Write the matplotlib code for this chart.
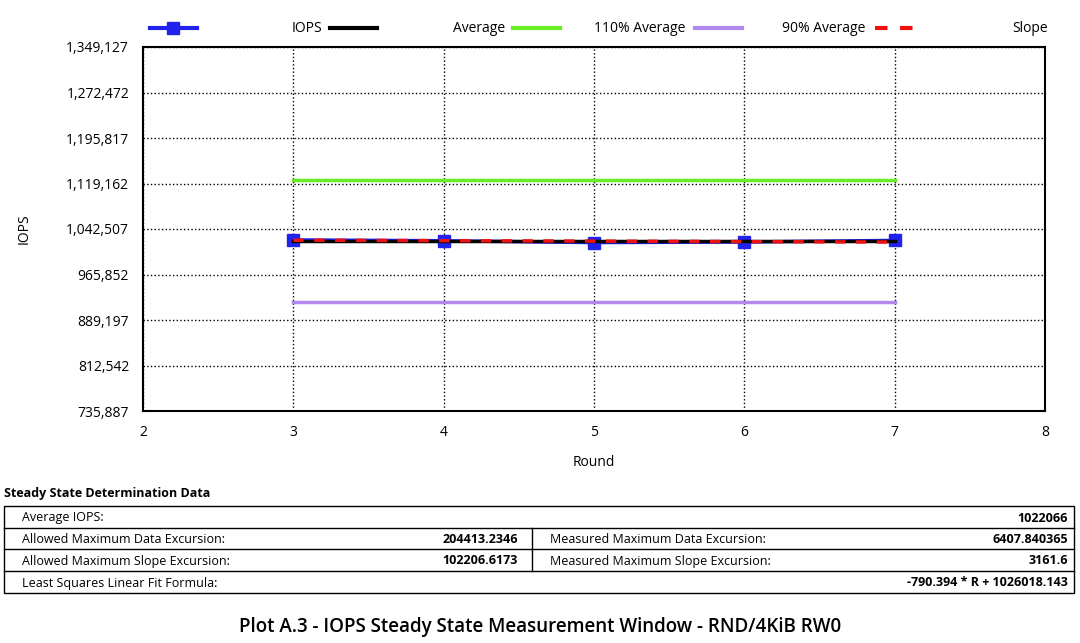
import numpy as np
import matplotlib.pyplot as plt
from matplotlib.lines import Line2D
from matplotlib.patches import Rectangle

rounds = [3, 4, 5, 6, 7]
iops = [1024100, 1022700, 1019600, 1020600, 1023300]
average = 1022066
slope_a, slope_b = -790.394, 1026018.143
yticks = [735887, 812542, 889197, 965852, 1042507, 1119162, 1195817, 1272472, 1349127]

W, H = 1080, 643
fig = plt.figure(figsize=(W / 100, H / 100), dpi=100)
plt.rcParams['font.family'] = ['Open Sans', 'DejaVu Sans']


def fx(px):
    return px / W


def fy(py):
    return 1 - py / H


ax = fig.add_axes([fx(143), fy(411), fx(1045) - fx(143), fy(47) - fy(411)])
r = np.array(rounds)
ax.plot(r, [average * 1.1] * 5, color='#66ee22', lw=2.5)
ax.plot(r, [average * 0.9] * 5, color='#b088ee', lw=2.5)
ax.plot(r, iops, color='#2222ee', lw=2.5, marker='s', ms=8)
ax.plot(r, [average] * 5, color='black', lw=2.5)
ax.plot(r, slope_a * r + slope_b, color='#ee1111', lw=2.5, ls=(0, (3, 3)))
ax.set_xlim(2, 8)
ax.set_ylim(yticks[0], yticks[-1])
ax.set_yticks(yticks)
ax.set_yticklabels([f'{v:,}' for v in yticks])
ax.set_xticks(range(2, 9))
ax.grid(True, color='black', ls=':', lw=1)
ax.tick_params(labelsize=10, length=0, pad=10)
for s in ax.spines.values():
    s.set_linewidth(1.5)
ax.set_xlabel('Round', fontsize=10, labelpad=11)
ax.set_ylabel('IOPS', fontsize=10, labelpad=25)

# legend row
leg = [('IOPS', '#2222ee', '-', 150, 322), ('Average', 'black', '-', 330, 505),
       ('110% Average', '#66ee22', '-', 513, 685), ('90% Average', '#b088ee', '-', 695, 865),
       ('Slope', '#ee1111', (0, (3, 3)), 875, 1048)]
for lab, c, ls, x0, xr in leg:
    fig.add_artist(Line2D([fx(x0), fx(x0 + 47)], [fy(28)] * 2, color=c, lw=3, ls=ls))
    fig.text(fx(xr), fy(28), lab, ha='right', va='center', fontsize=10)
fig.add_artist(Line2D([fx(173)], [fy(28)], marker='s', ms=8, color='#2222ee'))

# table
fig.text(fx(4), fy(493), 'Steady State Determination Data', fontsize=9, fontweight='bold', va='center')
rows = [506, 528, 549, 571, 593]
fig.add_artist(Rectangle((fx(4), fy(593)), fx(1070), fy(506) - fy(593), fill=False, lw=1))
for y in rows[1:-1]:
    fig.add_artist(Line2D([fx(4), fx(1074)], [fy(y)] * 2, color='black', lw=1))
fig.add_artist(Line2D([fx(532)] * 2, [fy(528), fy(571)], color='black', lw=1))
cells = [
    (0, 'Average IOPS:', None, None, '1022066'),
    (1, 'Allowed Maximum Data Excursion:', '204413.2346', 'Measured Maximum Data Excursion:', '6407.840365'),
    (2, 'Allowed Maximum Slope Excursion:', '102206.6173', 'Measured Maximum Slope Excursion:', '3161.6'),
    (3, 'Least Squares Linear Fit Formula:', None, None, '-790.394 * R + 1026018.143'),
]
for i, l1, v1, l2, v2 in cells:
    yc = fy((rows[i] + rows[i + 1]) / 2 + 1)
    fig.text(fx(22), yc, l1, fontsize=9, va='center')
    if v1:
        fig.text(fx(518), yc, v1, fontsize=9, va='center', ha='right', fontweight='bold')
    if l2:
        fig.text(fx(550), yc, l2, fontsize=9, va='center')
    fig.text(fx(1068), yc, v2, fontsize=9, va='center', ha='right', fontweight='bold')

fig.text(0.5, fy(627), 'Plot A.3 - IOPS Steady State Measurement Window - RND/4KiB RW0',
         fontsize=13.5, ha='center', va='center', fontweight='semibold')

fig.savefig('out.png', dpi=100)
